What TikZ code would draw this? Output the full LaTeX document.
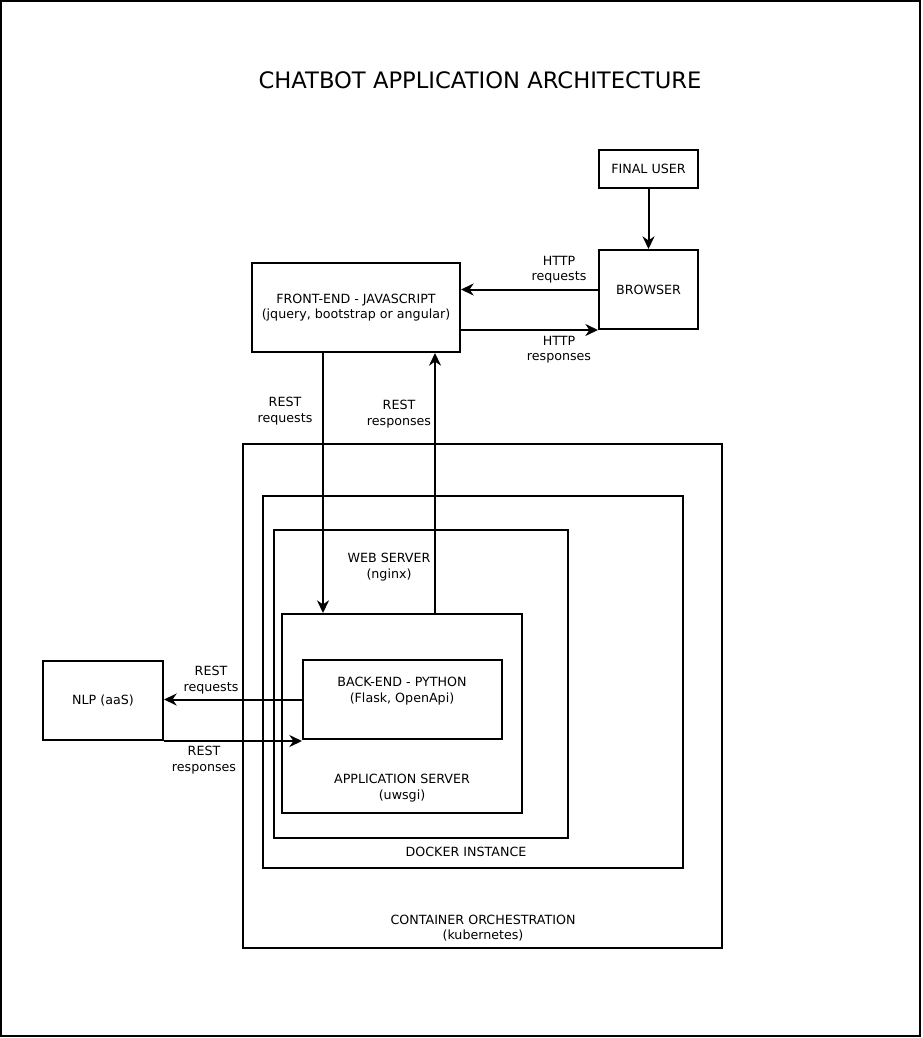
\documentclass[tikz,border=0pt]{standalone}
\usepackage{fontspec}
\setmainfont{DejaVu Sans}
\usetikzlibrary{arrows.meta}

\tikzset{
  box/.style 2 args={draw,line width=1.5pt,minimum width=#1*0.75pt,minimum height=#2*0.75pt,inner sep=0pt,align=center,font=\fontsize{9.5}{11.5}\selectfont},
  lbl/.style={align=center,inner sep=0pt,font=\fontsize{9.5}{11.5}\selectfont},
  arr/.style={-{Stealth[length=9.5pt,width=9pt]},line width=1.5pt}
}

\begin{document}
\begin{tikzpicture}[x=0.75pt,y=-0.75pt]
                \useasboundingbox (0,0) rectangle (923,1038);
                \draw[line width=2pt] (1,1) rectangle (920,1036);

                \node (t) at (480,80) [lbl,font=\fontsize{17}{20}\selectfont] {CHATBOT APPLICATION ARCHITECTURE};

                \node (fu) at (648.5,169) [box={99}{38}] {FINAL USER};
                \node (br) at (648.5,289.5) [box={99}{79}] {BROWSER};
                \node (fe) at (356,307.5) [box={208}{89}] {FRONT-END - JAVASCRIPT\\(jquery, bootstrap or angular)};
                \node (nlp) at (103,700.5) [box={120}{79}] {NLP (aaS)};

                \node (co) at (482.5,696) [box={479}{504}] {};
                \node (di) at (473,682) [box={420}{372}] {};
                \node (ws) at (421,684) [box={294}{308}] {};
                \node (as) at (402,713.5) [box={240}{199}] {};
                \node (be) at (402.5,699.5) [box={199}{79}] {};

                \node (bet) at (402,691) [lbl] {BACK-END - PYTHON\\(Flask, OpenApi)};
                \node (ast) at (402,788) [lbl] {APPLICATION SERVER\\(uwsgi)};
                \node (wst) at (389,567) [lbl] {WEB SERVER\\(nginx)};
                \node (dit) at (466,852) [lbl] {DOCKER INSTANCE};
                \node (cot) at (483,928) [lbl] {CONTAINER ORCHESTRATION\\(kubernetes)};

                \coordinate (rq) at (323,0);
                \coordinate (rs) at (435,0);

                \draw[arr] (fu) -- (br);
                \draw[arr] (br.west) -- (br.west -| fe.east);
                \draw[arr] (fe.east |- br.south west) -- (br.south west);
                \draw[arr] (fe.south -| rq) -- (as.north -| rq);
                \draw[arr] (as.north -| rs) -- (fe.south -| rs);
                \draw[arr] (be.west) -- (be.west -| nlp.east);
                \draw[arr] (nlp.south east) -- (nlp.south east -| be.west);

                \node (l1) at (559,270) [lbl] {HTTP\\requests};
                \node (l2) at (559,350) [lbl] {HTTP\\responses};
                \node (l3) at (285,411) [lbl] {REST\\requests};
                \node (l4) at (399,414) [lbl] {REST\\responses};
                \node (l5) at (211,680) [lbl] {REST\\requests};
                \node (l6) at (204,760) [lbl] {REST\\responses};
            \end{tikzpicture}
\end{document}
